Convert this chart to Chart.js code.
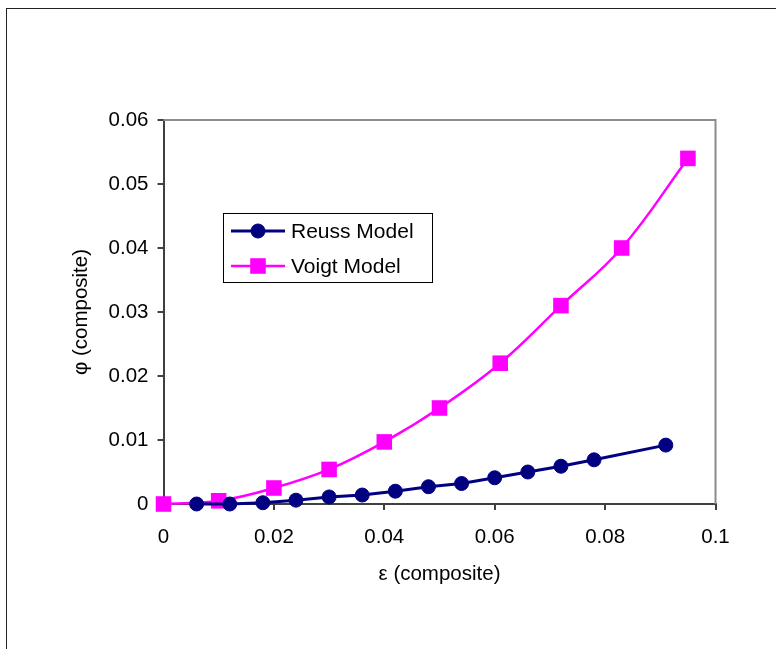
<!DOCTYPE html>
<html>
<head>
<meta charset="utf-8">
<script src="https://cdn.jsdelivr.net/npm/chart.js@4.4.1/dist/chart.umd.min.js"></script>
<style>
  html, body { margin: 0; padding: 0; background: #fff; overflow: hidden; }
  #wrap { position: relative; width: 776px; height: 649px; }
  #frame { position: absolute; left: 6px; top: 8px; width: 800px; height: 700px; border: 1px solid #222; box-sizing: border-box; }
  #chart { position: absolute; left: 0; top: 0; }
</style>
</head>
<body>
<div id="wrap">
  <div id="frame"></div>
  <canvas id="chart" width="776" height="649"></canvas>
</div>
<script>
// values
const reussX = [0.006, 0.012, 0.018, 0.024, 0.030, 0.036, 0.042, 0.048, 0.054, 0.060, 0.066, 0.072, 0.078, 0.091];
const reussY = [0, 0, 0.0002, 0.0006, 0.0011, 0.0014, 0.0020, 0.0027, 0.0032, 0.0041, 0.0050, 0.0059, 0.0069, 0.0092];
const voigtX = [0, 0.010, 0.020, 0.030, 0.040, 0.050, 0.061, 0.072, 0.083, 0.095];
const voigtY = [0, 0.0005, 0.0025, 0.0054, 0.0097, 0.0150, 0.0220, 0.0310, 0.0400, 0.0540];

const xTicks = [0, 0.02, 0.04, 0.06, 0.08, 0.1];
const yTicks = [0, 0.01, 0.02, 0.03, 0.04, 0.05, 0.06];

const seriesNames = ["Reuss Model", "Voigt Model"];
const xTitle = "ε (composite)";
const yTitle = "φ (composite)";

const FONT = { family: "'Liberation Sans', Arial, sans-serif", size: 20.5 };
const AXIS = "#404040";

function toPoints(xs, ys) {
  return xs.map((x, i) => ({ x: x, y: ys[i] }));
}

// grey frame on top / right of the plot area
const plotFrame = {
  id: "plotFrame",
  beforeDatasetsDraw(chart) {
    const { ctx, chartArea: a } = chart;
    ctx.save();
    ctx.strokeStyle = "#8c8c8c";
    ctx.lineWidth = 2;
    ctx.beginPath();
    ctx.moveTo(a.left, a.top);
    ctx.lineTo(a.right, a.top);
    ctx.lineTo(a.right, a.bottom);
    ctx.stroke();
    ctx.restore();
  }
};

// boxed legend inside the plot, like the original
const boxLegend = {
  id: "boxLegend",
  afterDraw(chart) {
    const ctx = chart.ctx;
    const box = { x: 223, y: 213, w: 209, h: 69 };
    ctx.save();
    ctx.fillStyle = "#fff";
    ctx.fillRect(box.x, box.y, box.w, box.h);
    ctx.strokeStyle = "#000";
    ctx.lineWidth = 1;
    ctx.strokeRect(box.x + 0.5, box.y + 0.5, box.w, box.h);

    chart.data.datasets.forEach((ds, i) => {
      const y = 231 + i * 35;
      ctx.strokeStyle = ds.borderColor;
      ctx.lineWidth = ds.borderWidth;
      ctx.beginPath();
      ctx.moveTo(231, y);
      ctx.lineTo(285, y);
      ctx.stroke();

      ctx.fillStyle = ds.pointBackgroundColor;
      ctx.strokeStyle = ds.pointBorderColor;
      ctx.lineWidth = ds.pointBorderWidth;
      Chart.helpers.drawPoint(ctx, {
        pointStyle: ds.pointStyle,
        radius: ds.pointRadius,
        rotation: 0,
        borderWidth: ds.pointBorderWidth
      }, 258, y);

      ctx.fillStyle = "#000";
      ctx.font = "21px 'Liberation Sans', Arial, sans-serif";
      ctx.textBaseline = "middle";
      ctx.textAlign = "left";
      ctx.fillText(ds.label, 291, y + 1);
    });
    ctx.restore();
  }
};

new Chart(document.getElementById("chart"), {
  type: "line",
  data: {
    datasets: [
      {
        label: seriesNames[0],
        data: toPoints(reussX, reussY),
        borderColor: "#000080",
        borderWidth: 3,
        pointStyle: "circle",
        pointRadius: 7,
        pointBackgroundColor: "#000080",
        pointBorderColor: "#000080",
        pointBorderWidth: 1,
        tension: 0,
        clip: false
      },
      {
        label: seriesNames[1],
        data: toPoints(voigtX, voigtY),
        borderColor: "#ff00ff",
        borderWidth: 2.5,
        pointStyle: "rect",
        pointRadius: 11,
        pointBackgroundColor: "#ff00ff",
        pointBorderColor: "#ff00ff",
        pointBorderWidth: 0,
        tension: 0.4,
        clip: false
      }
    ]
  },
  options: {
    responsive: false,
    animation: false,
    layout: { padding: { top: 120, right: 60.5, bottom: 0, left: 0 } },
    plugins: {
      legend: { display: false },
      tooltip: { enabled: false }
    },
    scales: {
      x: {
        type: "linear",
        position: "bottom",
        min: 0,
        max: 0.1,
        afterBuildTicks: (s) => { s.ticks = xTicks.map(v => ({ value: v })); },
        afterFit: (s) => { s.height = 145; },
        ticks: {
          callback: (v) => String(v),
          font: FONT,
          color: "#000",
          padding: 15,
          maxRotation: 0,
          autoSkip: false
        },
        grid: { drawOnChartArea: false, drawTicks: true, tickLength: 6, color: AXIS, lineWidth: 2 },
        border: { display: true, color: AXIS, width: 2 },
        title: { display: true, text: xTitle, font: FONT, color: "#000", padding: { top: 0, bottom: 62 } }
      },
      y: {
        type: "linear",
        position: "left",
        min: 0,
        max: 0.06,
        afterBuildTicks: (s) => { s.ticks = yTicks.map(v => ({ value: v })); },
        afterFit: (s) => { s.width = 163.5; },
        ticks: {
          callback: (v) => String(v),
          font: FONT,
          color: "#000",
          padding: 9,
          autoSkip: false
        },
        grid: { drawOnChartArea: false, drawTicks: true, tickLength: 6, color: AXIS, lineWidth: 2 },
        border: { display: true, color: AXIS, width: 2 },
        title: { display: true, text: yTitle, font: FONT, color: "#000", padding: { top: 69, bottom: 0 } }
      }
    }
  },
  plugins: [plotFrame, boxLegend]
});
</script>
</body>
</html>
